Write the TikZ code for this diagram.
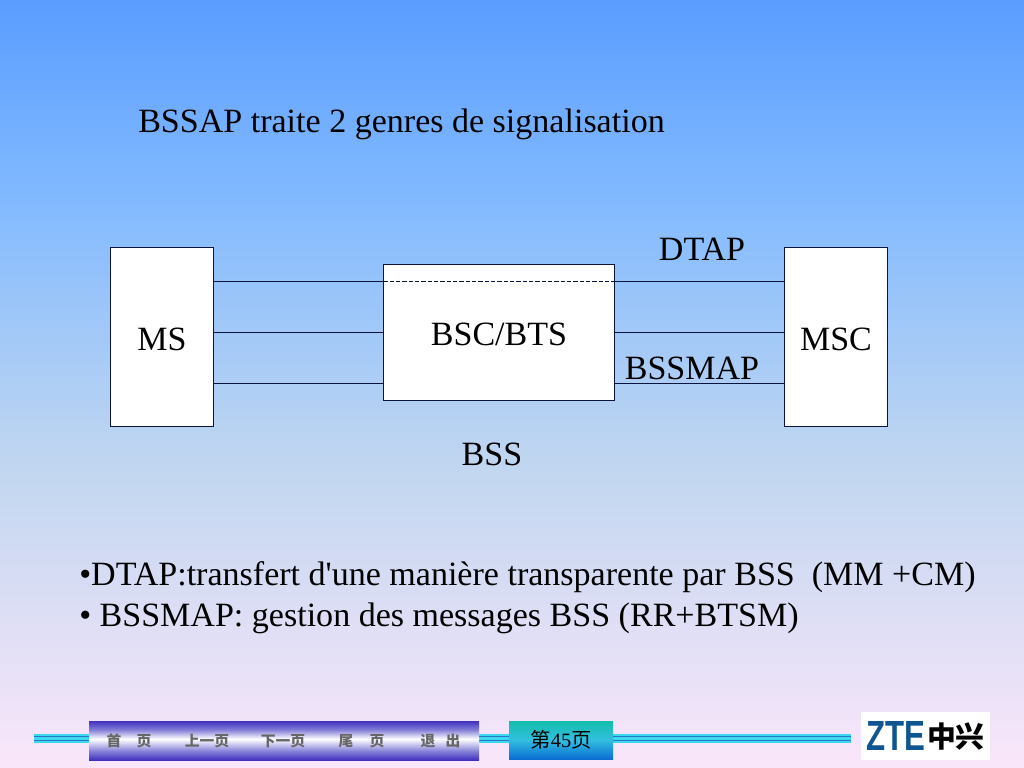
\documentclass[tikz,border=0pt]{standalone}
\usepackage{fontspec}
\setmainfont{Liberation Serif}
\newfontfamily\cjk{Noto Sans CJK SC}
\newfontfamily\logofont{Liberation Sans}

\definecolor{bgtop}{RGB}{90,157,255}
\definecolor{bgmid}{RGB}{130,186,255}
\definecolor{bglow}{RGB}{192,214,240}
\definecolor{bgbot}{RGB}{250,230,250}
\definecolor{navblue}{RGB}{66,48,190}
\definecolor{navmid}{RGB}{130,125,215}
\definecolor{pagetop}{RGB}{20,190,170}
\definecolor{pagemid}{RGB}{50,190,225}
\definecolor{pagebot}{RGB}{10,110,210}
\definecolor{linecyan}{RGB}{60,215,240}
\definecolor{linedark}{RGB}{40,120,190}
\definecolor{boxline}{RGB}{10,20,60}
\definecolor{logoblue}{RGB}{15,85,145}

\pgfdeclareverticalshading{slidebg}{100bp}{color(0bp)=(bgbot); color(25bp)=(bgbot); color(45bp)=(bglow); color(62bp)=(bgmid); color(75bp)=(bgtop); color(100bp)=(bgtop)}
\pgfdeclareverticalshading{navbar}{100bp}{color(0bp)=(navblue); color(25bp)=(navblue); color(36bp)=(navmid); color(52bp)=(white); color(64bp)=(navmid); color(75bp)=(navblue); color(100bp)=(navblue)}
\pgfdeclareverticalshading{pagebar}{100bp}{color(0bp)=(pagebot); color(25bp)=(pagebot); color(50bp)=(pagemid); color(75bp)=(pagetop); color(100bp)=(pagetop)}

\tikzset{
  netbox/.style={draw=boxline, fill=white, line width=0.7pt, inner sep=0pt},
  link/.style={draw=boxline, line width=0.7pt},
  bigtext/.style={font=\fontsize{24.2}{28}\selectfont, text=black, inner sep=0pt},
  navtext/.style={font=\cjk\bfseries\fontsize{10.5}{12}\selectfont, text=black!60, inner sep=0pt},
}

\begin{document}
\begin{tikzpicture}[x=0.025cm, y=-0.025cm]

\useasboundingbox (0,0) rectangle (1024,768);
\shade [shading=slidebg] (0,0) rectangle (1024,768);

\coordinate (r1) at (0,281);
\coordinate (r2) at (0,332);
\coordinate (r3) at (0,383);

\node [netbox, minimum width=2.5625cm, minimum height=4.475cm] (ms) at (162,337) {};
\node [netbox, minimum width=5.75cm, minimum height=3.4125cm] (bsc) at (499,332.5) {};
\node [netbox, minimum width=2.5625cm, minimum height=4.475cm] (msc) at (836,337) {};
\node [bigtext] (mslabel) at (162,339) {MS};
\node [bigtext] (bsclabel) at (499,334) {BSC/BTS};
\node [bigtext] (msclabel) at (836,339) {MSC};

\foreach \r in {r1,r2,r3} {
  \draw [link] (ms.east |- \r) -- (bsc.west |- \r);
  \draw [link] (bsc.east |- \r) -- (msc.west |- \r);
}
\draw [link, dash pattern=on 3pt off 1.5pt] (bsc.west |- r1) -- (bsc.east |- r1);

\node [bigtext, anchor=west] (title) at (138,124) {BSSAP traite 2 genres de signalisation};
\node [bigtext] (dtap) at (702,249) {DTAP};
\node [bigtext] (bssmap) at (692,368) {BSSMAP};
\node [bigtext] (bss) at (492,454) {BSS};
\node [bigtext, anchor=west] (note1) at (79,577) {•DTAP:transfert d\textquotesingle une manière transparente par BSS\ \ (MM +CM)};
\node [bigtext, anchor=west] (note2) at (79,618) {• BSSMAP: gestion des messages BSS (RR+BTSM)};

% footer
\foreach \a/\b in {34/89, 479/509, 613/851} {
  \fill [linecyan] (\a,733.5) rectangle (\b,743);
  \draw [linedark, line width=0.5pt] (\a,736.5) -- (\b,736.5);
  \draw [linedark, line width=0.5pt] (\a,740) -- (\b,740);
}
\shade [shading=navbar] (89,721) rectangle (479,760);
\foreach \x/\lab in {114/首, 144/页, 207/上一页, 283/下一页, 346/尾, 377/页, 428/退, 453/出} {
  \node [navtext] at (\x,741) {\lab};
}
\shade [shading=pagebar] (509,721) rectangle (613,759);
\node [inner sep=0pt, font=\fontsize{14.5}{16}\selectfont] (pageno) at (561,740) {{\cjk 第}45{\cjk 页}};

\node [fill=white, minimum width=3.225cm, minimum height=1.2cm, inner sep=0pt] (logobox) at (925.5,736) {};
\node [inner sep=0pt, text=logoblue, font=\logofont\bfseries\fontsize{30}{32}\selectfont, xscale=0.74] (zte) at (896,736) {ZTE};
\node [inner sep=0pt, font=\cjk\bfseries\fontsize{20.5}{24}\selectfont, anchor=east] (zhongxing) at (985,736) {中兴};

\end{tikzpicture}
\end{document}
